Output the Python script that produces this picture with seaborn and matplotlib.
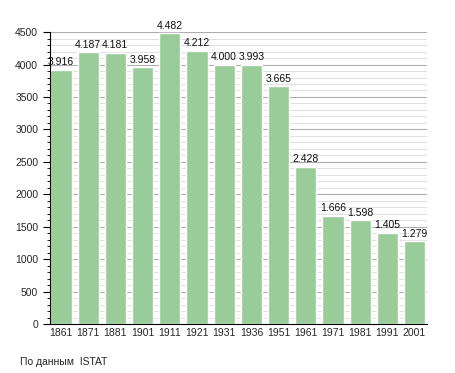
import matplotlib
matplotlib.use("Agg")
import matplotlib.pyplot as plt
import seaborn as sns
import pandas as pd
import numpy as np

years = ["1861", "1871", "1881", "1901", "1911", "1921", "1931",
         "1936", "1951", "1961", "1971", "1981", "1991", "2001"]
population = [3916, 4187, 4181, 3958, 4482, 4212, 4000,
              3993, 3665, 2428, 1666, 1598, 1405, 1279]

df = pd.DataFrame({"year": years, "pop": population})

sns.set_style("white")
plt.rcParams["font.family"] = ["Liberation Sans", "DejaVu Sans"]

fig = plt.figure(figsize=(4.55, 3.73), dpi=100)
ax = fig.add_axes([0.110, 0.131, 0.828, 0.783])

# grid: light every 100, darker every 500
for y in range(100, 4600, 100):
    if y % 500 == 0:
        ax.axhline(y, color="#adadad", lw=0.8, zorder=0)
    else:
        ax.axhline(y, color="#e0e0e0", lw=0.7, zorder=0)

sns.barplot(data=df, x="year", y="pop", color="#99cc99", saturation=1,
            width=0.78, ax=ax, zorder=2)

for i, v in enumerate(population):
    lab = f"{v:,}".replace(",", ".")
    ax.text(i, v + 40, lab, ha="center", va="bottom", fontsize=7.5, color="#111111")

ax.set_xlim(-0.40, 13.45)
ax.set_ylim(0, 4500)
ax.set_yticks(range(0, 4501, 500))
ax.set_yticks(range(0, 4501, 100), minor=True)
ax.set_xlabel("")
ax.set_ylabel("")
ax.tick_params(axis="y", which="major", length=5, width=0.8, labelsize=7.5, left=True, direction="out", color="black")
ax.tick_params(axis="y", which="minor", length=2.5, width=0.6, left=True, color="black")
ax.tick_params(axis="x", length=0, labelsize=7.5, pad=3)

for s in ["top", "right"]:
    ax.spines[s].set_visible(False)
ax.spines["left"].set_color("black")
ax.spines["left"].set_linewidth(0.8)
ax.spines["bottom"].set_color("black")
ax.spines["bottom"].set_linewidth(0.8)

fig.text(20 / 455, 1 - 362 / 373, "По данным  ISTAT", fontsize=7.5, va="center", ha="left")

fig.savefig("out.png", dpi=100)
